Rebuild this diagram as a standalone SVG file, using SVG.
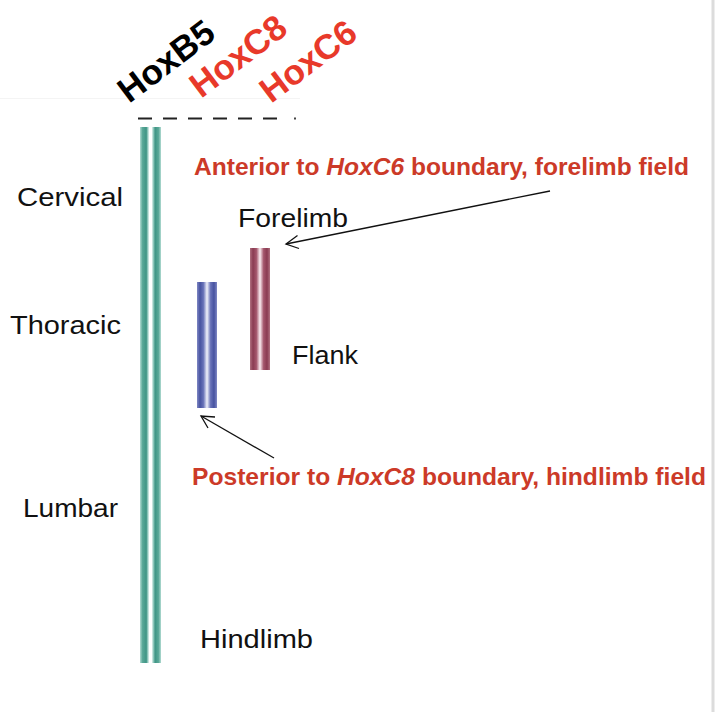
<svg xmlns="http://www.w3.org/2000/svg" width="716" height="712" viewBox="0 0 716 712">
<style>
.lbl{font-family:"Liberation Sans",Arial,sans-serif;font-size:25px;fill:#111;}
.hox{font-family:"Liberation Sans",Arial,sans-serif;font-size:35px;font-weight:bold;}
.ann{font-family:"Liberation Sans",Arial,sans-serif;font-size:24px;font-weight:bold;fill:#cc3a28;}
.conn{stroke:#111;stroke-width:1.3;fill:none;}
</style>
<defs>
<linearGradient id="gTeal" x1="0" y1="0" x2="1" y2="0">
<stop offset="0" stop-color="#b2dbd2"/><stop offset="0.12" stop-color="#5aa898"/><stop offset="0.3" stop-color="#3f9585"/><stop offset="0.38" stop-color="#a5d4ca"/><stop offset="0.45" stop-color="#ffffff"/><stop offset="0.55" stop-color="#ffffff"/><stop offset="0.62" stop-color="#a5d4ca"/><stop offset="0.72" stop-color="#3f9585"/><stop offset="0.88" stop-color="#5aa898"/><stop offset="1" stop-color="#b2dbd2"/>
</linearGradient>
<linearGradient id="gRed" x1="0" y1="0" x2="1" y2="0">
<stop offset="0" stop-color="#b07080"/><stop offset="0.15" stop-color="#8a3b52"/><stop offset="0.32" stop-color="#a4566c"/><stop offset="0.5" stop-color="#fbeef2"/><stop offset="0.68" stop-color="#a4566c"/><stop offset="0.85" stop-color="#8a3b52"/><stop offset="1" stop-color="#b07080"/>
</linearGradient>
<linearGradient id="gBlue" x1="0" y1="0" x2="1" y2="0">
<stop offset="0" stop-color="#8088c4"/><stop offset="0.15" stop-color="#4652a0"/><stop offset="0.32" stop-color="#6872b8"/><stop offset="0.5" stop-color="#f1f2fb"/><stop offset="0.68" stop-color="#6872b8"/><stop offset="0.85" stop-color="#4652a0"/><stop offset="1" stop-color="#8088c4"/>
</linearGradient>
</defs>
<rect width="716" height="712" fill="#ffffff"/>
<line x1="713" y1="0" x2="713" y2="712" stroke="#dcdcdc" stroke-width="3"/>
<line x1="0" y1="98.5" x2="300" y2="98.5" stroke="#f4f4f4" stroke-width="1"/>

<g id="hoxB5"><text class="hox" fill="#000" transform="translate(129,104) rotate(-37)">HoxB5</text></g>
<g id="hoxC8"><text class="hox" fill="#e8392a" transform="translate(201,99) rotate(-37)">HoxC8</text></g>
<g id="hoxC6"><text class="hox" fill="#e8392a" transform="translate(271,104) rotate(-37)">HoxC6</text></g>

<g id="dashes"><line x1="138" y1="118.5" x2="284" y2="118.5" stroke="#222" stroke-width="2" stroke-dasharray="14 11"/><rect x="294" y="117.5" width="2" height="2" fill="#444"/></g>

<g id="hoxB5-bar"><rect x="140" y="127" width="21" height="536" fill="url(#gTeal)"/></g>
<g id="hoxC6-bar"><rect x="250" y="248" width="20" height="122" fill="url(#gRed)"/></g>
<g id="hoxC8-bar"><rect x="197" y="282" width="20" height="126" fill="url(#gBlue)"/></g>

<g id="labels">
<text class="lbl" x="17" y="206" textLength="106" lengthAdjust="spacingAndGlyphs">Cervical</text>
<text class="lbl" x="10" y="334" textLength="111" lengthAdjust="spacingAndGlyphs">Thoracic</text>
<text class="lbl" x="23" y="517" textLength="95" lengthAdjust="spacingAndGlyphs">Lumbar</text>
<text class="lbl" x="200" y="648" textLength="113" lengthAdjust="spacingAndGlyphs">Hindlimb</text>
<text class="lbl" x="238" y="227" textLength="110" lengthAdjust="spacingAndGlyphs">Forelimb</text>
<text class="lbl" x="292" y="364" textLength="66" lengthAdjust="spacingAndGlyphs">Flank</text>
</g>

<g id="annotation-anterior"><text class="ann" x="194" y="175" textLength="495" lengthAdjust="spacingAndGlyphs">Anterior to <tspan font-style="italic">HoxC6</tspan> boundary, forelimb field</text></g>
<g id="annotation-posterior"><text class="ann" x="192" y="485" textLength="514" lengthAdjust="spacingAndGlyphs">Posterior to <tspan font-style="italic">HoxC8</tspan> boundary, hindlimb field</text></g>

<g id="connectors">
<line class="conn" x1="550" y1="191" x2="286" y2="244"/>
<polyline class="conn" points="297.5,235.5 286,244 299,248.5"/>
<line class="conn" x1="274" y1="458" x2="201" y2="416"/>
<polyline class="conn" points="215,417 201,416 208,428"/>
</g>
</svg>
